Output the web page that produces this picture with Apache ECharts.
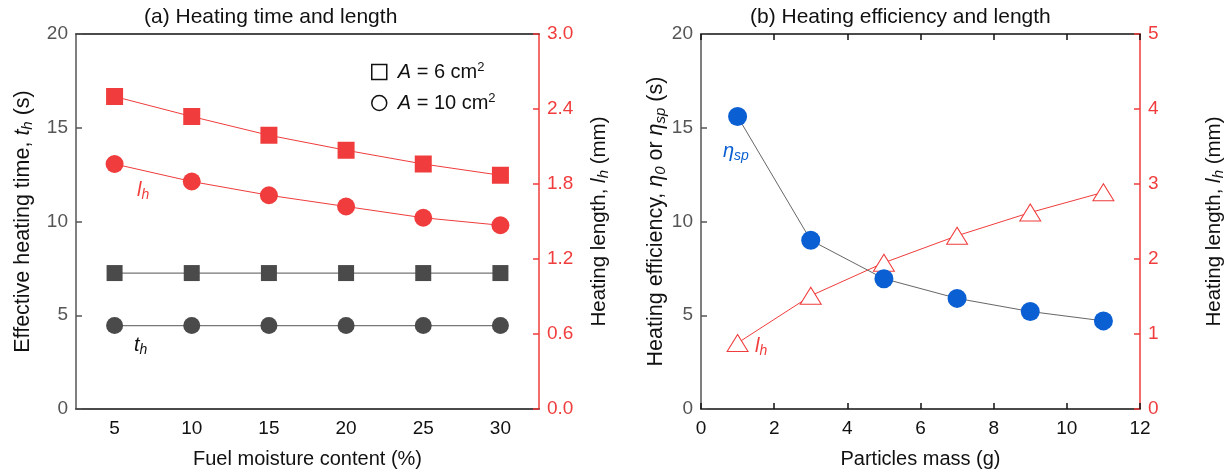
<!DOCTYPE html>
<html>
<head>
<meta charset="utf-8">
<script src="https://cdn.jsdelivr.net/npm/echarts@6/dist/echarts.min.js"></script>
<style>html,body{margin:0;padding:0;background:#fff}#c{width:1232px;height:476px}</style>
</head>
<body>
<div id="c"></div>
<script>
// ---- data ----
const moistureCats = ['5', '10', '15', '20', '25', '30'];
const lhA6 = [2.50, 2.34, 2.19, 2.07, 1.96, 1.87];
const lhA10 = [1.96, 1.82, 1.71, 1.62, 1.53, 1.47];
const thA6 = [7.25, 7.25, 7.25, 7.25, 7.25, 7.25];
const thA10 = [4.45, 4.45, 4.45, 4.45, 4.45, 4.45];

const massX = [1, 3, 5, 7, 9, 11];
const etaSp = [15.6, 9.0, 6.95, 5.9, 5.2, 4.7];
const lhMass = [0.88, 1.51, 1.95, 2.31, 2.62, 2.89];

const titleA = '(a) Heating time and length';
const titleB = '(b) Heating efficiency and length';

// ---- styles ----
const RED = '#f03c3c';
const GRAY = '#4a4a4a';
const BLUE = '#0a5fd2';
const FONT = '"Liberation Sans", Arial, sans-serif';
const LAB = 19;
const NAME = 20;

const subRich = (color, fs) => ({
  n: { fontSize: fs, color: color, fontFamily: FONT, lineHeight: 24 },
  i: { fontSize: fs, color: color, fontFamily: FONT, fontStyle: 'italic', lineHeight: 24 },
  s: { fontSize: Math.round(fs * 0.72), color: color, fontFamily: FONT, fontStyle: 'italic', verticalAlign: 'bottom', lineHeight: 24 }
});
// zrender graphic text uses "fill" instead of "color"
const gRich = (color, fs) => ({
  i: { fontSize: fs, fill: color, fontFamily: FONT, fontStyle: 'italic', lineHeight: 24 },
  s: { fontSize: Math.round(fs * 0.72), fill: color, fontFamily: FONT, fontStyle: 'italic', verticalAlign: 'bottom', lineHeight: 24 }
});

const chart = echarts.init(document.getElementById('c'));

function leftY(grid, max, interval, name, gap) {
  return {
    type: 'value', gridIndex: grid, position: 'left', min: 0, max: max, interval: interval,
    axisLine: { show: true, onZero: false, lineStyle: { color: '#555', width: 1.5 } },
    axisTick: { show: true, inside: true, length: 6, lineStyle: { color: '#555', width: 1.5 } },
    axisLabel: { color: '#555', fontSize: LAB, fontFamily: FONT, margin: 8 },
    splitLine: { show: false },
    name: name, nameLocation: 'middle', nameGap: gap, nameRotate: 90,
    nameTextStyle: { rich: subRich('#111', 21.5) }
  };
}
function rightY(grid, max, interval, gap, fmt) {
  return {
    type: 'value', gridIndex: grid, position: 'right', min: 0, max: max, interval: interval,
    axisLine: { show: true, onZero: false, lineStyle: { color: RED, width: 1.5 } },
    axisTick: { show: true, inside: true, length: 6, lineStyle: { color: RED, width: 1.5 } },
    axisLabel: { color: RED, fontSize: LAB, fontFamily: FONT, margin: 8, formatter: fmt },
    splitLine: { show: false },
    name: '{n|Heating length, }{i|l}{s|h}{n| (mm)}', nameLocation: 'middle', nameGap: gap, nameRotate: 90,
    nameTextStyle: { rich: subRich('#111', 20.5) }
  };
}
const xTickStyle = { inside: true, length: 6, lineStyle: { color: '#111', width: 1.5 } };

const option = {
  animation: false,
  backgroundColor: '#fff',
  title: [
    { text: titleA, left: 139, top: 2, textStyle: { fontSize: 21, fontWeight: 'normal', color: '#111', fontFamily: FONT } },
    { text: titleB, left: 745, top: 2, textStyle: { fontSize: 21, fontWeight: 'normal', color: '#111', fontFamily: FONT } }
  ],
  grid: [
    { left: 76, right: 1232 - 539, top: 34, bottom: 476 - 409 },
    { left: 701, right: 1232 - 1140, top: 34, bottom: 476 - 409 }
  ],
  legend: {
    orient: 'vertical', left: 366, top: 56, itemWidth: 15, itemHeight: 15, itemGap: 10,
    data: [
      { name: 'A6', icon: 'rect', itemStyle: { color: '#fff', borderColor: '#111', borderWidth: 1.5 } },
      { name: 'A10', icon: 'circle', itemStyle: { color: '#fff', borderColor: '#111', borderWidth: 1.5 } }
    ],
    formatter: function (n) { return n === 'A6' ? '{i|A}{n| = 6 cm}{p|2}' : '{i|A}{n| = 10 cm}{p|2}'; },
    textStyle: {
      fontSize: 20, color: '#111', fontFamily: FONT, padding: [0, 0, 0, 6],
      rich: {
        n: { fontSize: 20, color: '#111', fontFamily: FONT, lineHeight: 22 },
        i: { fontSize: 20, fontStyle: 'italic', color: '#111', fontFamily: FONT, lineHeight: 22 },
        p: { fontSize: 13, color: '#111', fontFamily: FONT, verticalAlign: 'top', lineHeight: 22 }
      }
    }
  },
  xAxis: [
    {
      type: 'category', gridIndex: 0, data: moistureCats, boundaryGap: true, position: 'bottom',
      axisLine: { onZero: false, lineStyle: { color: '#111', width: 1.5 } },
      axisTick: Object.assign({ alignWithLabel: true }, xTickStyle),
      axisLabel: { color: '#111', fontSize: LAB, fontFamily: FONT, margin: 10 },
      name: 'Fuel moisture content (%)', nameLocation: 'middle', nameGap: 40,
      nameTextStyle: { fontSize: NAME, color: '#111', fontFamily: FONT }
    },
    {
      type: 'category', gridIndex: 0, data: moistureCats, boundaryGap: true, position: 'top',
      axisLine: { onZero: false, lineStyle: { color: '#111', width: 1.5 } },
      axisTick: Object.assign({ alignWithLabel: true }, xTickStyle),
      axisLabel: { show: false }
    },
    {
      type: 'value', gridIndex: 1, min: 0, max: 12, interval: 2, position: 'bottom',
      axisLine: { onZero: false, lineStyle: { color: '#111', width: 1.5 } },
      axisTick: xTickStyle,
      axisLabel: { color: '#111', fontSize: LAB, fontFamily: FONT, margin: 10 },
      splitLine: { show: false },
      name: 'Particles mass (g)', nameLocation: 'middle', nameGap: 40,
      nameTextStyle: { fontSize: NAME, color: '#111', fontFamily: FONT }
    },
    {
      type: 'value', gridIndex: 1, min: 0, max: 12, interval: 2, position: 'top',
      axisLine: { onZero: false, lineStyle: { color: '#111', width: 1.5 } },
      axisTick: xTickStyle,
      axisLabel: { show: false }, splitLine: { show: false }
    }
  ],
  yAxis: [
    leftY(0, 20, 5, '{n|Effective heating time, }{i|t}{s|h}{n| (s)}', 41),
    rightY(0, 3, 0.6, 48, (v) => v.toFixed(1)),
    leftY(1, 20, 5, '{n|Heating efficiency, }{i|η}{s|0}{n| or }{i|η}{s|sp}{n| (s)}', 33),
    rightY(1, 5, 1, 62, (v) => String(v))
  ],
  series: [
    {
      name: 'lhA6', type: 'line', xAxisIndex: 0, yAxisIndex: 1, data: lhA6,
      symbol: 'rect', symbolSize: 17, itemStyle: { color: RED }, lineStyle: { color: RED, width: 1 }, z: 3
    },
    {
      name: 'lhA10', type: 'line', xAxisIndex: 0, yAxisIndex: 1, data: lhA10,
      symbol: 'circle', symbolSize: 18, itemStyle: { color: RED }, lineStyle: { color: RED, width: 1 }, z: 3
    },
    {
      name: 'A6', type: 'line', xAxisIndex: 0, yAxisIndex: 0, data: thA6,
      symbol: 'rect', symbolSize: 16, itemStyle: { color: GRAY }, lineStyle: { color: '#777', width: 1.2 }, z: 3
    },
    {
      name: 'A10', type: 'line', xAxisIndex: 0, yAxisIndex: 0, data: thA10,
      symbol: 'circle', symbolSize: 17, itemStyle: { color: GRAY }, lineStyle: { color: '#777', width: 1.2 }, z: 3
    },
    {
      name: 'lhMass', type: 'line', xAxisIndex: 2, yAxisIndex: 3, data: massX.map((x, i) => [x, lhMass[i]]),
      symbol: 'triangle', symbolSize: [21, 17], itemStyle: { color: '#fff', borderColor: RED, borderWidth: 1 },
      lineStyle: { color: RED, width: 1 }, z: 3
    },
    {
      name: 'eta', type: 'line', xAxisIndex: 2, yAxisIndex: 2, data: massX.map((x, i) => [x, etaSp[i]]),
      symbol: 'circle', symbolSize: 19, itemStyle: { color: BLUE }, lineStyle: { color: '#666', width: 1 }, z: 4
    }
  ],
  graphic: [
    { type: 'text', left: 137, top: 180, style: { text: '{i|l}{s|h}', rich: gRich(RED, 20) } },
    { type: 'text', left: 134, top: 335, style: { text: '{i|t}{s|h}', rich: gRich('#111', 20) } },
    { type: 'text', left: 723, top: 141, style: { text: '{i|η}{s|sp}', rich: gRich(BLUE, 20) } },
    { type: 'text', left: 755, top: 336, style: { text: '{i|l}{s|h}', rich: gRich(RED, 20) } }
  ]
};
chart.setOption(option);
</script>
</body>
</html>
